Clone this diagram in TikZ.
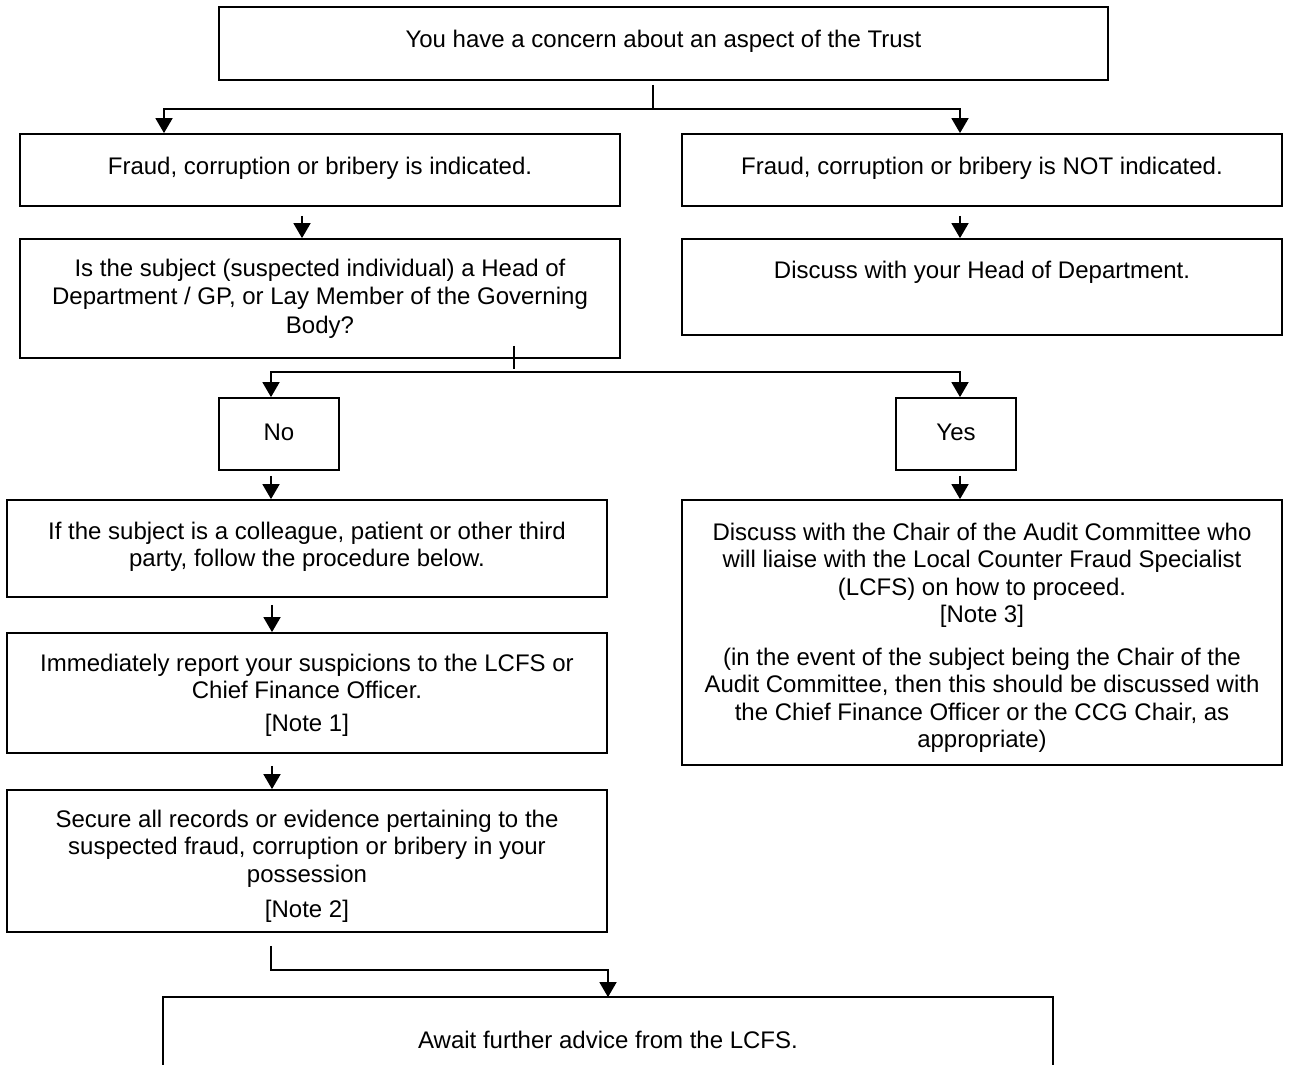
\documentclass[tikz,border=0pt]{standalone}
\usepackage{fontspec}
\setmainfont{Liberation Sans}
\usetikzlibrary{arrows.meta,positioning}

\begin{document}
\begin{tikzpicture}[x=0.5pt,y=-0.5pt,line width=0.9pt,
  flowbox/.style={draw,rectangle,inner sep=0pt,font=\fontsize{12}{13.75}\selectfont},
  boxtext/.style={anchor=north,align=center,inner sep=0pt,font=\fontsize{12}{13.75}\selectfont,execute at begin node=\strut},
  flowarrow/.style={-{Triangle[width=8.5pt,length=7.5pt]}}]

\useasboundingbox (0,0) rectangle (1289,1065);

% Top box
\node[flowbox,minimum width=444.5pt,minimum height=36.5pt] (trust) at (663.5,43.5) {};
\node[boxtext] (trust-text) at ([yshift=-10.5pt]trust.north) {You have a concern about an aspect of the Trust};

% Indicated / not indicated
\node[flowbox,minimum width=300pt,minimum height=36pt] (fraud) at (320,170) {};
\node[boxtext] (fraud-text) at ([yshift=-10.5pt]fraud.north) {Fraud, corruption or bribery is indicated.};

\node[flowbox,minimum width=300pt,minimum height=36pt] (notfraud) at (982,170) {};
\node[boxtext] (notfraud-text) at ([yshift=-10.5pt]notfraud.north) {Fraud, corruption or bribery is NOT indicated.};

% Second row
\node[flowbox,minimum width=300pt,minimum height=59.5pt] (subject) at (320,298.5) {};
\node[boxtext,font=\fontsize{12}{14.25}\selectfont] (subject-text) at ([yshift=-10pt]subject.north) {Is the subject (suspected individual) a Head of\\
  Department / GP, or Lay Member of the Governing\\ Body?};

\node[flowbox,minimum width=300pt,minimum height=48pt] (head) at (982,287) {};
\node[boxtext] (head-text) at ([yshift=-10pt]head.north) {Discuss with your Head of Department.};

% No / Yes
\node[flowbox,minimum width=60pt,minimum height=36pt] (no) at (279,434) {\raisebox{1.5pt}{No}};
\node[flowbox,minimum width=60pt,minimum height=36pt] (yes) at (956,434) {\raisebox{2pt}{Yes}};

% Left column
\node[flowbox,minimum width=300pt,minimum height=48.5pt] (colleague) at (307,548.5) {};
\node[boxtext] (colleague-text) at ([yshift=-11pt]colleague.north) {If the subject is a colleague, patient or other third\\
  party, follow the procedure below.};

\node[flowbox,minimum width=300pt,minimum height=60pt] (report) at (307,693) {};
\node[boxtext] (report-text) at ([yshift=-10.5pt]report.north) {Immediately report your suspicions to the LCFS or\\
  Chief Finance Officer.\\[2.75pt] {[Note 1]}};

\node[flowbox,minimum width=300pt,minimum height=71pt] (secure) at (307,861) {};
\node[boxtext] (secure-text) at ([yshift=-10pt]secure.north) {Secure all records or evidence pertaining to the\\
  suspected fraud, corruption or bribery in your\\ possession\\[3.75pt] {[Note 2]}};

% Right column
\node[flowbox,minimum width=300pt,minimum height=132.5pt] (chair) at (982,632.5) {};
\node[boxtext] (chair-text) at ([yshift=-11.5pt]chair.north) {Discuss with the Chair of the Audit Committee who\\
  will liaise with the Local Counter Fraud Specialist\\ (LCFS) on how to proceed.\\ {[Note 3]}\\[7.5pt]
  (in the event of the subject being the Chair of the\\ Audit Committee, then this should be discussed with\\
  the Chief Finance Officer or the CCG Chair, as\\ appropriate)};

% Bottom box (runs off the page)
\node[minimum width=444pt,minimum height=33pt,inner sep=0pt] (await) at (608,1031) {};
\draw (await.south west) |- (await.north east) -- (await.south east);
\node[boxtext] (await-text) at ([yshift=-15.5pt]await.north) {Await further advice from the LCFS.};

% Connectors
\coordinate (split1) at (653,109);
\draw ([yshift=-2pt]trust.south -| split1) -- (split1);
\draw[flowarrow] (split1) -| ([xshift=-78pt]fraud.north);
\draw[flowarrow] (split1) -| ([xshift=-11pt]notfraud.north);

\draw[flowarrow] ([xshift=-9pt,yshift=-4.5pt]fraud.south) -- ([xshift=-9pt]subject.north);
\draw[flowarrow] ([xshift=-11pt,yshift=-4.5pt]notfraud.south) -- ([xshift=-11pt]head.north);

\coordinate (split2) at (514,372);
\draw ([xshift=97pt,yshift=6.5pt]subject.south) -- ([xshift=97pt,yshift=-5pt]subject.south);
\draw[flowarrow] (split2) -| ([xshift=-4pt]no.north);
\draw[flowarrow] (split2) -| ([xshift=2pt]yes.north);

\draw[flowarrow] ([xshift=-4pt,yshift=-2.5pt]no.south) -- ([xshift=-18pt]colleague.north);
\draw[flowarrow] ([xshift=2pt,yshift=-2.5pt]yes.south) -- ([xshift=-11pt]chair.north);
\draw[flowarrow] ([xshift=-17.5pt,yshift=-3.5pt]colleague.south) -- ([xshift=-17.5pt]report.north);
\draw[flowarrow] ([xshift=-17.5pt,yshift=-6pt]report.south) -- ([xshift=-17.5pt]secure.north);
\draw[flowarrow] ([xshift=-18pt,yshift=-6.5pt]secure.south) |- ([yshift=13.5pt]await.north) -- (await.north);

\end{tikzpicture}
\end{document}
